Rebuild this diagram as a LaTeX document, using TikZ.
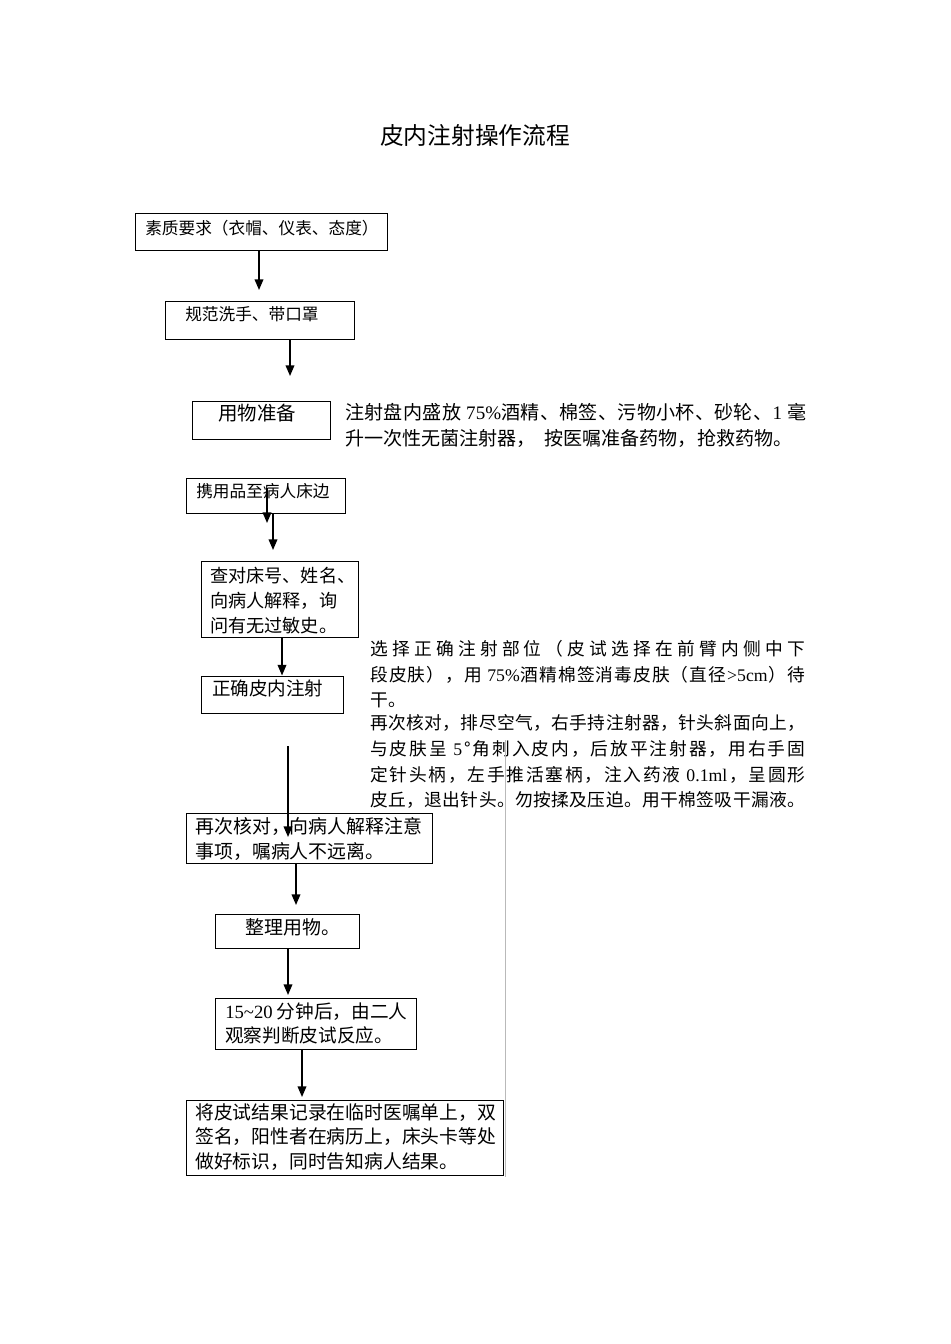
\documentclass[tikz,border=0pt]{standalone}
\usepackage{fontspec}
\setmainfont{Liberation Serif}
\newfontfamily\cjk{Noto Sans CJK SC}
\usetikzlibrary{arrows.meta,fit}
\ExplSyntaxOn
\NewDocumentCommand\spreadline{mm}{\makebox[#1][s]{\tl_map_inline:nn{#2}{{##1}\hfil}\unskip}}
\ExplSyntaxOff
\newcommand\fs[2]{\cjk\fontsize{#1}{#2}\selectfont}
\begin{document}
\begin{tikzpicture}[x=0.75pt,y=-0.75pt,
  box/.style={draw=black,line width=0.75pt,inner sep=0pt},
  txt/.style={anchor=west,inner sep=0pt,align=left},
  arr/.style={draw=black,line width=1.1pt,-{Triangle[width=6.5pt,length=8pt]}},
  note/.style={anchor=west,inner sep=0pt,font=\fs{13.3pt}{18pt}}]
\useasboundingbox (0,0) rectangle (950,1344);
\fill[white] (0,0) rectangle (950,1344);

\node[font=\fs{17.8pt}{20pt}] (title) at (475,135) {皮内注射操作流程};

% boxes
\node[box,fit={(135,214) (387,251)}] (b1) {};
\node[txt,font=\fs{12.5pt}{15pt}] (t1) at (145,228) {素质要求（衣帽、仪表、态度）};
\node[box,fit={(165,302) (354,339)}] (b2) {};
\node[txt,font=\fs{12.5pt}{15pt}] (t2) at (185,314) {规范洗手、带口罩};
\node[box,fit={(192,401) (330,439)}] (b3) {};
\node[txt,font=\fs{14.6pt}{18pt}] (t3) at (218,413) {用物准备};
\node[box,fit={(186,478) (345,513)}] (b4) {};
\node[txt,font=\fs{12.5pt}{15pt}] (t4) at (196,491) {携用品至病人床边};
\node[box,fit={(201,561) (358,637)}] (b5) {};
\node[txt,font=\fs{13.6pt}{18.75pt}] (t5) at (210,601) {查对床号、姓名、\\向病人解释，询\\问有无过敏史。};
\node[box,fit={(201,676) (343,713)}] (b6) {};
\node[txt,font=\fs{13.9pt}{18pt}] (t6) at (212,688) {正确皮内注射};
\node[box,fit={(186,813) (432,863)}] (b7) {};
\node[txt,font=\fs{14.2pt}{18.75pt}] (t7) at (195,838.5) {再次核对，向病人解释注意\\事项，嘱病人不远离。};
\node[box,fit={(215,914) (359,948)}] (b8) {};
\node[txt,font=\fs{14.2pt}{18pt}] (t8) at (245,927) {整理用物。};
\node[box,fit={(215,998) (416,1049)}] (b9) {};
\node[txt,font=\fs{14pt}{18pt}] (t9) at (225,1023) {{\rmfamily 15\textasciitilde 20} 分钟后，由二人\\观察判断皮试反应。};
\node[box,fit={(186,1100) (503,1175)}] (b10) {};
\node[txt,font=\fs{14.1pt}{18.4pt}] (t10) at (195,1137) {将皮试结果记录在临时医嘱单上，双\\签名，阳性者在病历上，床头卡等处\\做好标识，同时告知病人结果。};

% side notes
\node[anchor=west,inner sep=0pt,font=\fs{14.3pt}{18pt}] (r1) at (345,412) {\spreadline{345.75pt}{注射盘内盛放{\rmfamily\ 75\%}酒精、棉签、污物小杯、砂轮、{\rmfamily 1\ }毫}};
\node[anchor=west,inner sep=0pt,font=\fs{14.3pt}{18pt}] (r2) at (345,438) {升一次性无菌注射器，\ \ 按医嘱准备药物，抢救药物。};

\node[note] (n1) at (370,649) {\spreadline{326.25pt}{选择正确注射部位（皮试选择在前臂内侧中下}};
\node[note] (n2) at (370,675) {\spreadline{326.25pt}{段皮肤），用{\rmfamily\ 75\%}酒精棉签消毒皮肤（直径{\rmfamily >5cm}）待}};
\node[note] (n3) at (370,700) {干。};
\node[note] (n4) at (370,723) {\spreadline{326.25pt}{再次核对，排尽空气，右手持注射器，针头斜面向上，}};
\node[note] (n5) at (370,749) {\spreadline{326.25pt}{与皮肤呈{\rmfamily\ 5}{°}角刺入皮内，后放平注射器，用右手固}};
\node[note] (n6) at (370,775) {\spreadline{326.25pt}{定针头柄，左手推活塞柄，注入药液{\rmfamily\ 0.1ml}，呈圆形}};
\node[note] (n7) at (370,800) {\spreadline{326.25pt}{皮丘，退出针头。勿按揉及压迫。用干棉签吸干漏液。}};

% thin grey rule
\coordinate (g1) at (505,740);
\coordinate (g2) at (505,1177);
\draw[gray!55,line width=0.5pt] (g1) -- (g2);

% connectors
\coordinate (e1) at (259,290);
\draw[arr] (b1.south -| e1) -- (e1);
\coordinate (e2) at (290,376);
\draw[arr] (b2.south -| e2) -- (e2);
\coordinate (s3) at (267,488);
\coordinate (e3) at (267,523);
\draw[arr] (s3) -- (e3);
\coordinate (e4) at (273,550);
\draw[arr] (b4.south -| e4) -- (e4);
\coordinate (x5) at (282,0);
\draw[arr] (b5.south -| x5) -- (b6.north -| x5);
\coordinate (s6) at (288,746);
\coordinate (e6) at (288,837);
\draw[arr] (s6) -- (e6);
\coordinate (e7) at (296,905);
\draw[arr] (b7.south -| e7) -- (e7);
\coordinate (e8) at (288,995);
\draw[arr] (b8.south -| e8) -- (e8);
\coordinate (e9) at (302,1097);
\draw[arr] (b9.south -| e9) -- (e9);
\end{tikzpicture}
\end{document}
